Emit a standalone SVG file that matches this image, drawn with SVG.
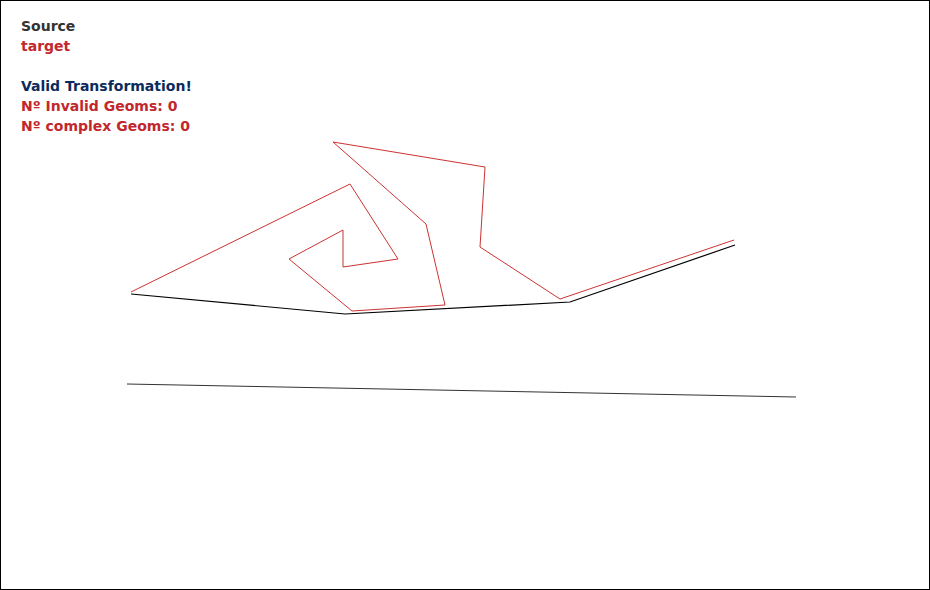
<svg xmlns="http://www.w3.org/2000/svg" width="930" height="590" viewBox="0 0 930 590">
<style>
.t{font-family:"DejaVu Sans",sans-serif;font-size:14px;font-weight:600}
.src{fill:#333333}
.red{fill:#c1272d}
.ok{fill:#0c2a5c}
</style>
<rect x="0.5" y="0.5" width="929" height="589" fill="#ffffff" stroke="#000000"/>
<g id="legend">
<text class="t src" x="21" y="31">Source</text>
<text class="t red" x="21" y="51">target</text>
<text class="t ok" x="21" y="91">Valid Transformation!</text>
<text class="t red" x="21" y="111">Nº Invalid Geoms: 0</text>
<text class="t red" x="21" y="131">Nº complex Geoms: 0</text>
</g>
<g id="connectors" fill="none">
<polyline id="source" points="131,294 345,314 570,302 735,245" stroke="#000000" stroke-width="1.2"/>
<polyline id="target" points="131,292 350,184 398,259 343,267 343,230 289,259 352,311 445,305 426,224 333,142 485,167 480,247 560,299 734,240" stroke="#cc3333" stroke-width="1"/>
<line id="baseline" x1="127" y1="384" x2="796" y2="397" stroke="#333333" stroke-width="1"/>
</g>
</svg>
